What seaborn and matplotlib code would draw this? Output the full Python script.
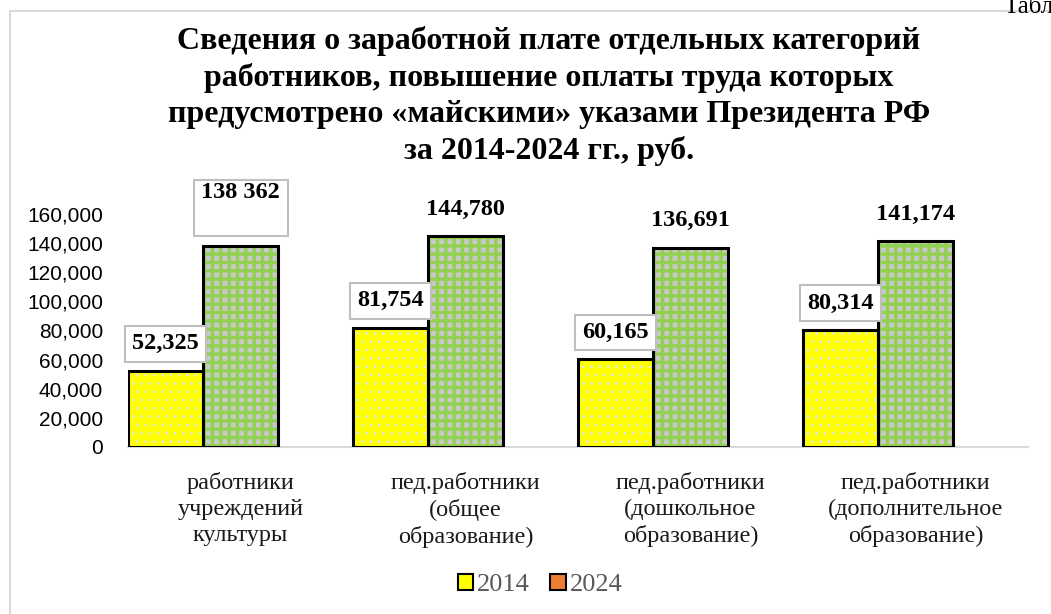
import matplotlib
matplotlib.use("Agg")
import matplotlib.pyplot as plt
import seaborn as sns
import pandas as pd
import numpy as np
from matplotlib.patches import Rectangle
from matplotlib.lines import Line2D

# ===================== данные =====================
categories = ["работники\nучреждений\nкультуры",
              "пед.работники\n(общее\nобразование)",
              "пед.работники\n(дошкольное\nобразование)",
              "пед.работники\n(дополнительное\nобразование)"]
years = ["2014", "2024"]
values_2014 = [52325, 81754, 60165, 80314]
values_2024 = [138362, 144780, 136691, 141174]
labels_2014 = ["52,325", "81,754", "60,165", "80,314"]
labels_2024 = ["138 362", "144,780", "136,691", "141,174"]
title = ("Сведения о заработной плате отдельных категорий\n"
         "работников, повышение оплаты труда которых\n"
         "предусмотрено «майскими» указами Президента РФ\n"
         "за 2014-2024 гг., руб.")

df = pd.DataFrame({
    "cat": categories * 3,
    "year": ["2014"] * 4 + ["2024"] * 4 + ["_empty"] * 4,
    "val": values_2014 + values_2024 + [np.nan] * 4,
})

sns.set_theme(style="white")
plt.rcParams["font.family"] = ["Liberation Serif", "DejaVu Serif"]
plt.rcParams["text.color"] = "black"
plt.rcParams["hatch.linewidth"] = 2.2

W, H = 1051, 614
fig = plt.figure(figsize=(W / 100, H / 100), dpi=100)
ax = fig.add_axes([128 / W, 1 - 447 / H, 900 / W, 233 / H])

# в Excel третий (пустой) ряд занимает место справа от пары столбцов
sns.barplot(data=df, x="cat", y="val", hue="year",
            hue_order=["2014", "2024", "_empty"], order=categories,
            width=1.0, dodge=True, gap=0, ax=ax, legend=False,
            palette=["#FFFF00", "#C8C8C8", "#FFFFFF"], saturation=1)

hatch_cfg = {"#FFFF00": ("..", "#DDEEDD", 0.8), "#C8C8C8": ("++", "#92D050", 2.4)}
bars = [p for p in ax.patches if p.get_height() > 0]
for p in bars:
    fc = matplotlib.colors.to_hex(p.get_facecolor())
    h, hc, hlw = hatch_cfg.get(fc.upper(), (None, None, 1))
    p.set_hatch(h)
    p.set_edgecolor(hc)
    p.set_linewidth(0)
    if hasattr(p, "set_hatch_linewidth"):
        p.set_hatch_linewidth(hlw)
    ax.add_patch(Rectangle((p.get_x(), 0), p.get_width(), p.get_height(),
                           fill=False, edgecolor="black", linewidth=2.2, zorder=3))

ax.set_ylim(0, 160000)
ax.set_xlim(-0.5, 3.5)
ax.set_yticks(range(0, 160001, 20000))
ax.set_yticklabels([f"{v:,}" for v in range(0, 160001, 20000)],
                   fontsize=15, family=["Liberation Sans", "DejaVu Sans"], color="#000000")
ax.tick_params(axis="y", length=0, pad=18)
ax.tick_params(axis="x", length=0, pad=18)
ax.set_xticks(np.arange(4))
ax.set_xticklabels(categories, fontsize=17.5, color="#1A1A1A", linespacing=1.3)
ax.set_xlabel("")
ax.set_ylabel("")
for s in ["top", "right", "left"]:
    ax.spines[s].set_visible(False)
ax.spines["bottom"].set_color("#D9D9D9")
ax.spines["bottom"].set_linewidth(1.5)

# подписи данных
box = dict(boxstyle="square,pad=0.3", facecolor="white", edgecolor="#BFBFBF", linewidth=1.5)
w = 1 / 3
for i in range(4):
    x14 = i - 0.5 + w / 2
    x24 = i - 0.5 + 1.5 * w
    ax.annotate(labels_2014[i], (x14, values_2014[i]), xytext=(0, 27), textcoords="offset pixels",
                ha="center", va="center", fontsize=17.5, fontweight="bold", bbox=box,
                annotation_clip=False)
    if i == 0:
        # подпись вручную перенесена в Excel: большая рамка
        fig.add_artist(Rectangle((194 / W, 1 - 236 / H), 94 / W, 56 / H, transform=fig.transFigure,
                                 facecolor="white", edgecolor="#BFBFBF", linewidth=1.5, zorder=1))
        xd, yd = ax.transData.transform((x24, values_2024[i]))
        fig.text(xd / W, (yd + 53) / H, labels_2024[i], ha="center", va="center",
                 fontsize=17.5, fontweight="bold", zorder=5)
    else:
        ax.annotate(labels_2024[i], (x24, values_2024[i]), xytext=(0, 27), textcoords="offset pixels",
                    ha="center", va="center", fontsize=17.5, fontweight="bold", annotation_clip=False)

fig.text(549 / W, 1 - 26 / H, title, ha="center", va="top", fontsize=23, fontweight="bold",
         linespacing=1.31)
fig.text(1003 / W, 1 + 6 / H, "Таблица", ha="left", va="top", fontsize=18)

# рамка области диаграммы
fig.add_artist(Line2D([10 / W, 10 / W], [0, 1 - 11 / H], transform=fig.transFigure,
                      color="#D9D9D9", linewidth=1.5))
fig.add_artist(Line2D([10 / W, 1], [1 - 11 / H, 1 - 11 / H], transform=fig.transFigure,
                      color="#D9D9D9", linewidth=1.5))

# легенда
handles = [Rectangle((0, 0), 1, 1, facecolor="#FFFF00", edgecolor="black", linewidth=1.5),
           Rectangle((0, 0), 1, 1, facecolor="#ED7D31", edgecolor="black", linewidth=1.5)]
fig.legend(handles, years, loc="center", bbox_to_anchor=(540 / W, 1 - 585 / H), ncol=2,
           frameon=False, fontsize=19, labelcolor="#595959", handlelength=0.6, handleheight=0.6,
           handletextpad=0.15, columnspacing=0.75)

fig.savefig("out.png", dpi=100)
